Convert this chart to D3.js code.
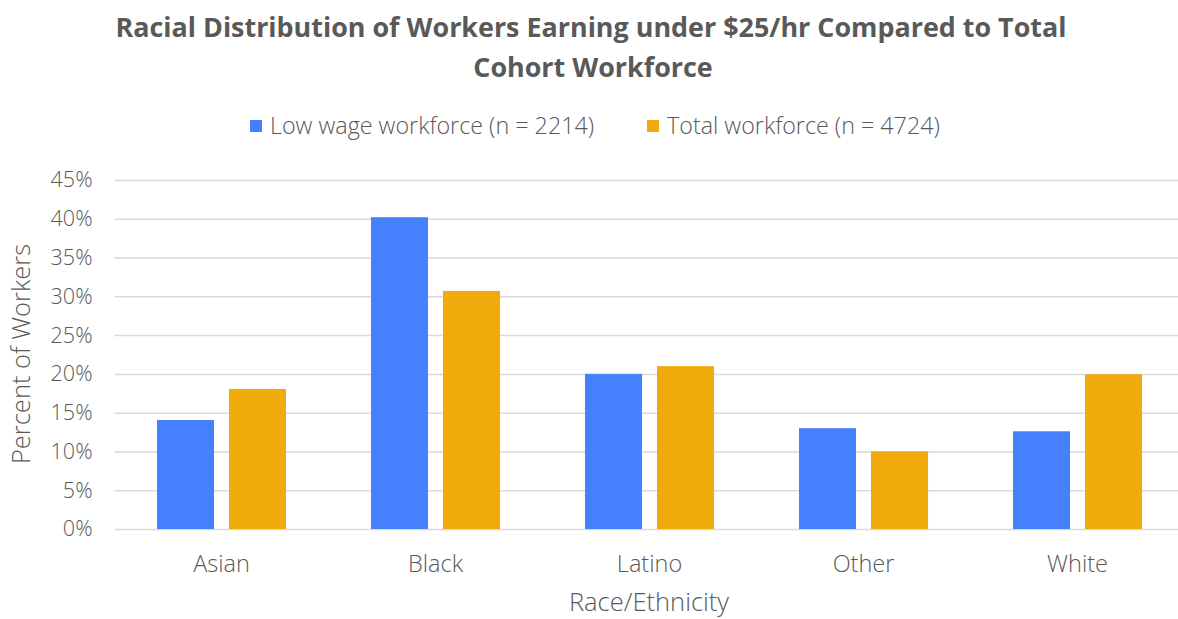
<!DOCTYPE html>
<html>
<head>
<meta charset="utf-8">
<script src="https://cdn.jsdelivr.net/npm/d3@7"></script>
<style>
  body { margin: 0; background: #fff; }
  svg { display: block; font-family: "Open Sans", "Noto Sans", sans-serif; }
</style>
</head>
<body>
<svg id="chart" width="1178" height="619"></svg>
<script>
const categories = ["Asian", "Black", "Latino", "Other", "White"];
const seriesNames = ["Low wage workforce (n = 2214)", "Total workforce (n = 4724)"];
const lowWage = [0.1405, 0.402, 0.200, 0.130, 0.126];
const totalWorkforce = [0.1805, 0.307, 0.210, 0.100, 0.1995];
const yTicks = [0, 0.05, 0.10, 0.15, 0.20, 0.25, 0.30, 0.35, 0.40, 0.45];
const colors = ["#4580FF", "#F0AA0C"];

const svg = d3.select("#chart");
const margin = { left: 114.5, right: 1184.5, top: 180, bottom: 529 };

const x = d3.scaleBand().domain(categories).range([margin.left, margin.right])
  .paddingInner(0.397).paddingOuter(0.1985);
const xs = d3.scaleBand().domain([0, 1]).range([0, x.bandwidth()]).paddingInner(0.208);
const y = d3.scaleLinear().domain([0, 0.45]).range([margin.bottom, margin.top]);

// gridlines
const grid = d3.axisLeft(y).tickValues(yTicks).tickSize(-(margin.right - margin.left)).tickFormat("");
svg.append("g").attr("transform", `translate(${margin.left},0)`).call(grid)
  .call(g => g.select(".domain").remove())
  .call(g => g.selectAll("line").attr("stroke", "#d9d9d9").attr("stroke-width", 1.5));

// y axis labels
svg.append("g").attr("transform", `translate(${margin.left},0)`)
  .call(d3.axisLeft(y).tickValues(yTicks).tickSize(0).tickPadding(22).tickFormat(d3.format(".0%")))
  .call(g => g.select(".domain").remove())
  .call(g => g.selectAll("text").attr("fill", "#595959").style("font-size", "21.5px")
    .style("font-weight", "300").style("font-family", "'Open Sans', sans-serif"));

// bars
const data = categories.map((c, i) => ({ c, vals: [lowWage[i], totalWorkforce[i]] }));
const groups = svg.append("g").selectAll("g").data(data).join("g")
  .attr("transform", d => `translate(${x(d.c)},0)`);
groups.selectAll("rect").data(d => d.vals.map((v, k) => ({ v, k }))).join("rect")
  .attr("x", d => xs(d.k)).attr("width", xs.bandwidth())
  .attr("y", d => y(d.v)).attr("height", d => y(0) - y(d.v))
  .attr("fill", d => colors[d.k]);

// x axis labels
svg.append("g").attr("transform", `translate(0,${margin.bottom})`)
  .call(d3.axisBottom(x).tickSize(0).tickPadding(26))
  .call(g => g.select(".domain").remove())
  .call(g => g.selectAll("text").attr("fill", "#595959").style("font-size", "23.5px")
    .style("font-weight", "300").style("font-family", "'Open Sans', sans-serif"));

// title
const title = svg.append("text").attr("text-anchor", "middle").attr("fill", "#595959")
  .style("font-size", "26.9px").style("font-weight", "bold");
title.append("tspan").attr("x", 591).attr("y", 37).text("Racial Distribution of Workers Earning under $25/hr Compared to Total");
title.append("tspan").attr("x", 593).attr("y", 77).text("Cohort Workforce");

// legend
const legendItems = [{ x: 250, name: seriesNames[0], color: colors[0] }, { x: 647, name: seriesNames[1], color: colors[1] }];
const lg = svg.append("g").selectAll("g").data(legendItems).join("g");
lg.append("rect").attr("x", d => d.x).attr("y", 120).attr("width", 12).attr("height", 12).attr("fill", d => d.color);
lg.append("text").attr("x", d => d.x + 20).attr("y", 134).attr("fill", "#595959")
  .style("font-size", "23.3px").style("font-weight", "300").text(d => d.name);

// axis titles
svg.append("text").attr("x", 649).attr("y", 611).attr("text-anchor", "middle").attr("fill", "#595959")
  .style("font-size", "25.5px").style("font-weight", "300").text("Race/Ethnicity");
svg.append("text").attr("transform", "translate(30,354) rotate(-90)").attr("text-anchor", "middle").attr("fill", "#595959")
  .style("font-size", "25.5px").style("font-weight", "300").text("Percent of Workers");
</script>
</body>
</html>
